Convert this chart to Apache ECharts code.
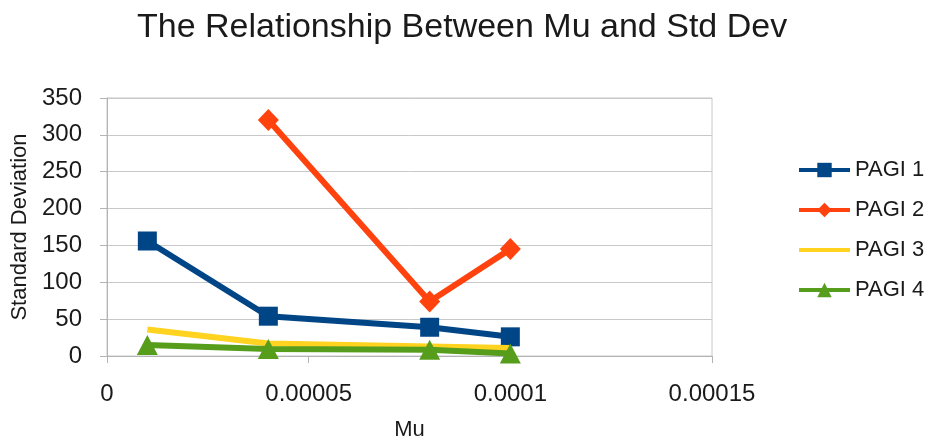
<!DOCTYPE html>
<html>
<head>
<meta charset="utf-8">
<script src="https://cdn.jsdelivr.net/npm/echarts@6/dist/echarts.min.js"></script>
<style>
  html, body { margin: 0; padding: 0; background: #fff; }
  #chart { width: 933px; height: 442px; }
</style>
</head>
<body>
<div id="chart"></div>
<script>
// Mu values shared by every series
const muValues = [0.00001, 0.00004, 0.00008, 0.0001];

// Standard deviation per series (null = no measurement)
const pagi1 = [156, 54, 39, 26];
const pagi2 = [null, 320, 74, 145];
const pagi3 = [36, 17, 13, 11];
const pagi4 = [15, 9.5, 8.5, 3.5];

const seriesNames = ['PAGI 1', 'PAGI 2', 'PAGI 3', 'PAGI 4'];
const xTickLabels = ['0', '0.00005', '0.0001', '0.00015'];
const yTickLabels = ['0', '50', '100', '150', '200', '250', '300', '350'];

const FONT = '"Liberation Sans", Arial, sans-serif';
const TEXT = '#1a1a1a';

function pairs(values) {
  const out = [];
  values.forEach(function (v, i) {
    if (v !== null) out.push([muValues[i], v]);
  });
  return out;
}

const colors = ['#004586', '#ff420e', '#ffd320', '#579d1c'];
const symbols = ['rect', 'diamond', 'none', 'triangle'];
const symbolSizes = [19, [21, 22], 0, [21, 20]];
const allValues = [pagi1, pagi2, pagi3, pagi4];

const chart = echarts.init(document.getElementById('chart'), null, { renderer: 'canvas' });

chart.setOption({
  animation: false,
  backgroundColor: '#ffffff',
  title: {
    text: 'The Relationship Between Mu and Std Dev',
    left: 132,
    top: 6,
    textStyle: { fontFamily: FONT, fontSize: 34, fontWeight: 'normal', color: TEXT }
  },
  legend: {
    orient: 'vertical',
    left: 792,
    top: 154,
    itemWidth: 51,
    itemHeight: 18,
    itemGap: 18,
    // PAGI 3 has no markers, so its legend key shows the line alone
    data: seriesNames.map(function (n, k) {
      return symbols[k] === 'none' ? { name: n, itemStyle: { opacity: 0 } } : { name: n };
    }),
    textStyle: { fontFamily: FONT, fontSize: 22, color: TEXT },
    lineStyle: { width: 4 }
  },
  grid: {
    left: 107,
    right: 221,
    top: 98,
    bottom: 86,
    outerBoundsMode: 'none',
    containLabel: false,
    show: true,
    borderColor: '#c8c8c8',
    borderWidth: 1
  },
  xAxis: {
    type: 'value',
    min: 0,
    max: 0.00015,
    interval: 0.00005,
    name: 'Mu',
    nameLocation: 'middle',
    nameGap: 63,
    nameTextStyle: { fontFamily: FONT, fontSize: 22, color: TEXT },
    axisLine: { show: true, lineStyle: { color: '#b3b3b3', width: 1 } },
    axisTick: { show: true, length: 7, lineStyle: { color: '#b3b3b3' } },
    splitLine: { show: false },
    axisLabel: {
      margin: 26,
      fontFamily: FONT,
      fontSize: 24,
      color: TEXT,
      formatter: function (v, i) { return xTickLabels[i]; }
    }
  },
  yAxis: {
    type: 'value',
    min: 0,
    max: 350,
    interval: 50,
    name: 'Standard Deviation',
    nameLocation: 'middle',
    nameGap: 74,
    nameTextStyle: { fontFamily: FONT, fontSize: 22, color: TEXT },
    axisLine: { show: true, lineStyle: { color: '#b3b3b3', width: 1 } },
    axisTick: { show: true, length: 7, lineStyle: { color: '#b3b3b3' } },
    splitLine: { show: true, lineStyle: { color: '#c8c8c8', width: 1 } },
    axisLabel: {
      margin: 25,
      fontFamily: FONT,
      fontSize: 24,
      color: TEXT,
      formatter: function (v, i) { return yTickLabels[i]; }
    }
  },
  series: seriesNames.map(function (name, k) {
    return {
      name: name,
      type: 'line',
      data: pairs(allValues[k]),
      color: colors[k],
      symbol: symbols[k],
      symbolSize: symbolSizes[k],
      showSymbol: symbols[k] !== 'none',
      lineStyle: { width: 6, color: colors[k] },
      itemStyle: { color: colors[k] },
      z: 2 + k
    };
  })
});
</script>
</body>
</html>
